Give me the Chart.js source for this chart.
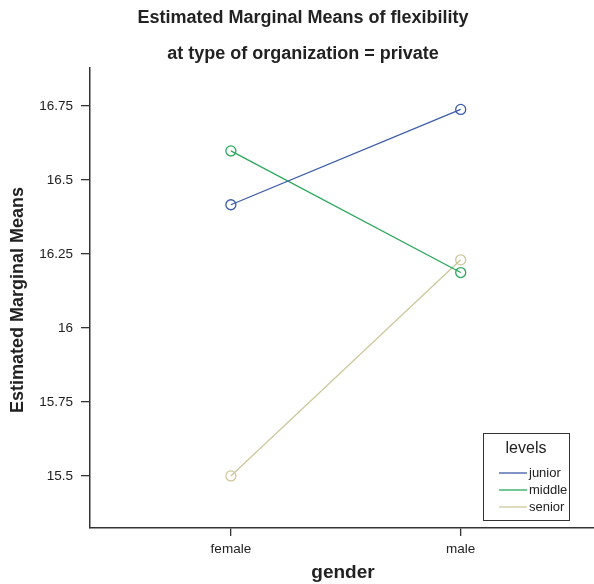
<!DOCTYPE html>
<html>
<head>
<meta charset="utf-8">
<script src="https://cdn.jsdelivr.net/npm/chart.js@4"></script>
<style>
  body { margin: 0; background: #fff; }
  canvas { display: block; }
</style>
</head>
<body>
<canvas id="chart" width="594" height="584"></canvas>
<script>
/* DATA */
const genders = ["female", "male"];
const levels = ["junior", "middle", "senior"];
const junior = [16.416, 16.738];
const middle = [16.598, 16.187];
const senior = [15.5, 16.23];
const yTicks = [15.5, 15.75, 16, 16.25, 16.5, 16.75];

const colors = ["#3c5ca8", "#2aa75b", "#cdc79c"];
const font = "'Liberation Sans', Arial, sans-serif";
const axisColor = "#333";

const series = [junior, middle, senior];

const datasets = series.map((vals, i) => ({
  label: levels[i],
  data: vals.map((v, j) => ({ x: j, y: v })),
  borderColor: colors[i],
  backgroundColor: "rgba(0,0,0,0)",
  borderWidth: 1.3,
  pointRadius: 5,
  pointBorderWidth: 1.3,
  pointBorderColor: colors[i],
  pointBackgroundColor: "rgba(0,0,0,0)",
  showLine: true,
  tension: 0
}));

/* TITLES + LEGEND */
const decor = {
  id: "decor",
  afterDraw(chart) {
    const c = chart.ctx;
    c.save();
    c.fillStyle = "#222";
    c.textAlign = "center";
    c.textBaseline = "middle";
    c.font = "bold 18px " + font;
    c.fillText("Estimated Marginal Means of flexibility", 303, 18);
    c.fillText("at type of organization = private", 303, 54);

    c.font = "bold 19px " + font;
    c.fillText("gender", 343, 573);

    c.save();
    c.translate(18, 300);
    c.rotate(-Math.PI / 2);
    c.font = "bold 18px " + font;
    c.fillText("Estimated Marginal Means", 0, 0);
    c.restore();

    // legend box
    c.strokeStyle = "#333";
    c.lineWidth = 1;
    c.strokeRect(483.5, 433.5, 86, 87);
    c.fillStyle = "#222";
    c.font = "16px " + font;
    c.fillText("levels", 526, 449);
    c.font = "13px " + font;
    c.textAlign = "left";
    levels.forEach((name, i) => {
      const y = 473 + i * 17;
      c.strokeStyle = colors[i];
      c.lineWidth = 1.3;
      c.beginPath();
      c.moveTo(499, y);
      c.lineTo(527, y);
      c.stroke();
      c.fillStyle = "#222";
      c.fillText(name, 529, y);
    });
    c.restore();
  }
};

new Chart(document.getElementById("chart"), {
  type: "scatter",
  data: { datasets },
  options: {
    responsive: false,
    animation: false,
    layout: { autoPadding: false, padding: { top: 68, left: 0, right: 0, bottom: 0 } },
    plugins: {
      legend: { display: false },
      title: { display: false },
      tooltip: { enabled: false }
    },
    scales: {
      x: {
        type: "linear",
        min: -0.613,
        max: 1.58,
        afterFit: s => { s.height = 56; s.paddingLeft = 0; s.paddingRight = 0; },
        afterBuildTicks: s => { s.ticks = genders.map((g, i) => ({ value: i })); },
        ticks: {
          callback: v => genders[v],
          color: "#222",
          padding: 5,
          font: { family: font, size: 13.5 }
        },
        grid: { drawOnChartArea: false, drawTicks: true, tickLength: 8, color: axisColor, lineWidth: 1.3 },
        border: { display: true, color: axisColor, width: 1.5 }
      },
      y: {
        min: 15.324,
        max: 16.878,
        afterFit: s => { s.width = 90; s.paddingTop = 0; s.paddingBottom = 0; },
        afterBuildTicks: s => { s.ticks = yTicks.map(v => ({ value: v })); },
        ticks: {
          callback: v => String(v),
          color: "#222",
          padding: 8,
          font: { family: font, size: 13.5 }
        },
        grid: { drawOnChartArea: false, drawTicks: true, tickLength: 9, color: axisColor, lineWidth: 1.3 },
        border: { display: true, color: axisColor, width: 1.5 }
      }
    }
  },
  plugins: [decor]
});
</script>
</body>
</html>
